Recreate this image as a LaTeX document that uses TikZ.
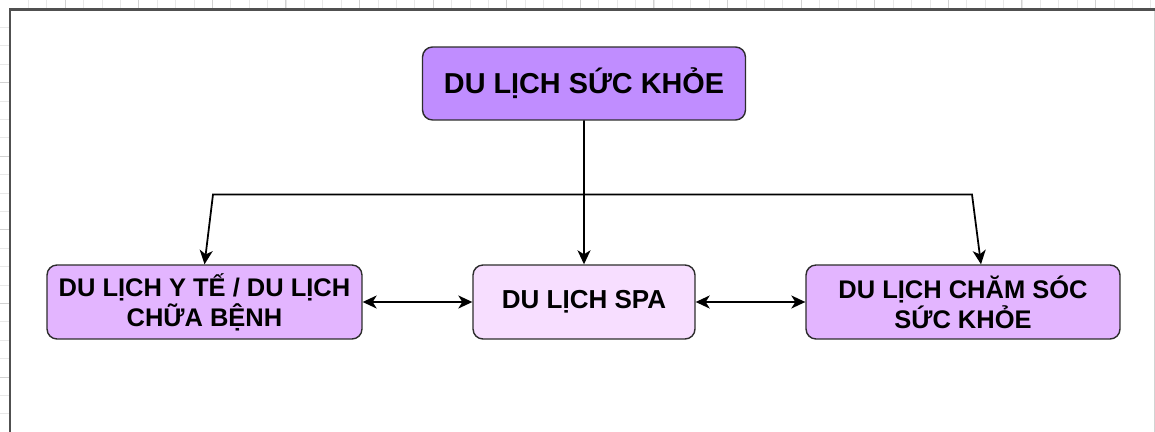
\documentclass[tikz,border=0pt]{standalone}
\usepackage{fontspec}
\setmainfont{Liberation Sans}
\usetikzlibrary{arrows.meta}

\definecolor{topfill}{RGB}{192,141,255}
\definecolor{sidefill}{RGB}{227,181,255}
\definecolor{spafill}{RGB}{247,222,255}
\definecolor{boxline}{RGB}{45,45,45}
\definecolor{gridcol}{RGB}{232,232,232}
\definecolor{gridbold}{RGB}{210,210,210}
\definecolor{framecol}{RGB}{80,80,80}

\begin{document}
\begin{tikzpicture}[x=0.02cm,y=-0.02cm,
    box/.style={draw=boxline,line width=0.8pt,rounded corners=0.2cm,align=center,inner sep=0pt,font=\bfseries},
    link/.style={line width=1pt,-{Stealth[length=0.28cm,width=0.26cm,inset=0.08cm]}},
    both/.style={line width=1pt,{Stealth[length=0.28cm,width=0.26cm,inset=0.08cm]}-{Stealth[length=0.28cm,width=0.26cm,inset=0.08cm]}}]
  \useasboundingbox (0,0) rectangle (1155,432);
  % page grid outside the frame
  \foreach \i in {1,...,62}
    \draw[gridcol,line width=0.4pt] ({10+18.4*\i},0) -- ({10+18.4*\i},9);
  \foreach \i in {0,...,14}
    \draw[gridbold,line width=0.5pt] ({65+73.6*\i},0) -- ({65+73.6*\i},9);
  \foreach \i in {1,...,23}
    \draw[gridcol,line width=0.4pt] (0,{9+18.4*\i}) -- (10,{9+18.4*\i});
  \foreach \i in {0,...,5}
    \draw[gridbold,line width=0.5pt] (0,{82.6+73.6*\i}) -- (10,{82.6+73.6*\i});
  % frame
  \fill[white] (10,9.5) rectangle (1155,432);
  \draw[gridbold,line width=0.5pt] (1154,9.5) -- (1154,432);
  \draw[framecol,line width=1.4pt] (10,432) -- (10,9.5) -- (1155,9.5);

  \node[box,fill=topfill,minimum width=6.46cm,minimum height=1.46cm,
        font=\bfseries\fontsize{16.4}{20}\selectfont] (top) at (584,83.5) {DU LỊCH SỨC KHỎE};
  \node[box,fill=sidefill,minimum width=6.3cm,minimum height=1.48cm,
        font=\bfseries\fontsize{14.5}{17}\selectfont] (yte) at (204.5,302) {DU LỊCH Y TẾ / DU LỊCH\\CHỮA BỆNH};
  \node[box,fill=spafill,minimum width=4.44cm,minimum height=1.48cm,
        font=\bfseries\fontsize{14.8}{17}\selectfont] (spa) at (584,302) {DU LỊCH SPA};
  \node[box,fill=sidefill,minimum width=6.28cm,minimum height=1.48cm,
        font=\bfseries\fontsize{14.5}{17}\selectfont] (chamsoc) at (963,302) {DU LỊCH CHĂM SÓC\\SỨC KHỎE};

  \coordinate (lbend) at (213,194.5);
  \coordinate (rbend) at (972,194.5);
  \draw[link] (top.south) -- (spa.north);
  \draw[link] (top.south) |- (lbend) -- (yte.north);
  \draw[link] (top.south) |- (rbend) -- ([xshift=0.36cm]chamsoc.north);
  \draw[both] (yte.east) -- (spa.west);
  \draw[both] (spa.east) -- (chamsoc.west);
\end{tikzpicture}
\end{document}
